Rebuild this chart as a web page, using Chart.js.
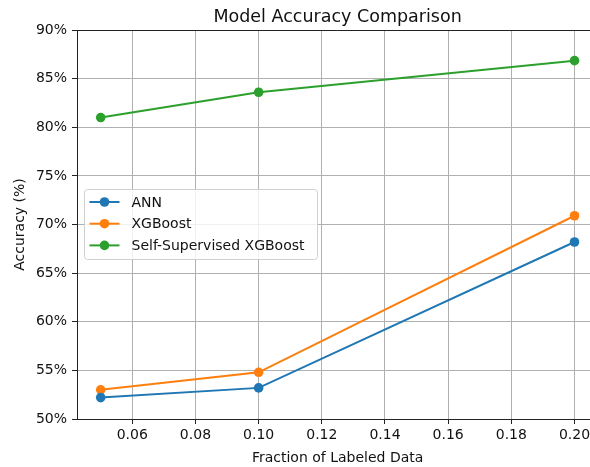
<!DOCTYPE html>
<html>
<head>
<meta charset="utf-8">
<script src="https://cdn.jsdelivr.net/npm/chart.js@4"></script>
<style>
  html, body { margin: 0; padding: 0; background: #fff; overflow: hidden; }
  #clip { position: relative; width: 590px; height: 467px; overflow: hidden; }
  #wrap { position: absolute; left: 0; top: 0; width: 603px; height: 467px; }
  #accChart { width: 603px; height: 467px; display: block; }
</style>
</head>
<body>
<div id="clip"><div id="wrap"><canvas id="accChart" width="603" height="467"></canvas></div></div>
<script>
// data
const fractions = [0.05, 0.10, 0.20];
const annAcc = [52.2, 53.2, 68.2];
const xgbAcc = [53.0, 54.8, 70.9];
const ssXgbAcc = [81.0, 83.6, 86.85];
const xTicks = [0.06, 0.08, 0.10, 0.12, 0.14, 0.16, 0.18, 0.20];
const yTicks = [50, 55, 60, 65, 70, 75, 80, 85, 90];
const chartTitle = "Model Accuracy Comparison";

const FONT = "'DejaVu Sans', sans-serif";
const TEXT = "#111";

function pts(vals) {
    return fractions.map((f, i) => ({ x: f, y: vals[i] }));
}

function series(label, vals, color) {
    return {
        label: label,
        data: pts(vals),
        borderColor: color,
        backgroundColor: color,
        borderWidth: 2,
        pointRadius: 4.8,
        pointHoverRadius: 4.8,
        pointBorderWidth: 0,
        tension: 0
    };
}

// title over the axes, top/right spines and the legend box inside, like matplotlib
const boxAndLegend = {
    id: "boxAndLegend",
    afterDraw(chart) {
        const c = chart.ctx;
        const a = chart.chartArea;
        c.save();
        c.strokeStyle = "#222";
        c.lineWidth = 1;
        c.beginPath();
        c.moveTo(a.left, a.top + 0.5);
        c.lineTo(a.right, a.top + 0.5);
        c.moveTo(a.right - 0.5, a.top);
        c.lineTo(a.right - 0.5, a.bottom);
        c.stroke();

        c.fillStyle = TEXT;
        c.font = "17.5px " + FONT;
        c.textAlign = "center";
        c.textBaseline = "alphabetic";
        c.fillText(chartTitle, (a.left + a.right) / 2, a.top - 8.5);

        // legend
        const x0 = a.left + 7.5, y0 = a.top + 159.5, w = 233, h = 70;
        c.fillStyle = "rgba(255,255,255,0.8)";
        c.strokeStyle = "#d0d0d0";
        c.beginPath();
        c.roundRect(x0, y0, w, h, 3);
        c.fill();
        c.stroke();
        c.font = "14px " + FONT;
        c.textAlign = "left";
        c.textBaseline = "middle";
        chart.data.datasets.forEach((ds, i) => {
            const cy = y0 + 12.5 + i * 21.7;
            c.strokeStyle = ds.borderColor;
            c.lineWidth = 2;
            c.beginPath();
            c.moveTo(x0 + 5, cy);
            c.lineTo(x0 + 35, cy);
            c.stroke();
            c.fillStyle = ds.borderColor;
            c.beginPath();
            c.arc(x0 + 20, cy, 4.8, 0, Math.PI * 2);
            c.fill();
            c.fillStyle = TEXT;
            c.fillText(ds.label, x0 + 47, cy + 1);
        });
        c.restore();
    }
};

const ctx = document.getElementById("accChart").getContext("2d");
window.accChart = new Chart(ctx, {
    type: "line",
    data: {
        datasets: [
            series("ANN", annAcc, "#1f77b4"),
            series("XGBoost", xgbAcc, "#ff7f0e"),
            series("Self-Supervised XGBoost", ssXgbAcc, "#2ca02c")
        ]
    },
    options: {
        responsive: false,
        animation: false,
        layout: { padding: { top: 30, right: 0, bottom: 0, left: 0 } },
        scales: {
            x: {
                type: "linear",
                min: 0.0425,
                max: 0.2075,
                afterBuildTicks: (s) => { s.ticks = xTicks.map(v => ({ value: v })); },
                afterFit: (s) => { s.height = 48; s.paddingLeft = 0; s.paddingRight = 0; },
                border: { color: "#222", width: 1 },
                grid: { color: "#b0b0b0", lineWidth: 1, tickLength: 5, tickColor: "#222" },
                ticks: {
                    color: TEXT,
                    font: { family: FONT, size: 14 },
                    padding: 3,
                    maxRotation: 0,
                    callback: (v) => v.toFixed(2)
                },
                title: {
                    display: true,
                    text: "Fraction of Labeled Data",
                    color: TEXT,
                    font: { family: FONT, size: 14 },
                    padding: { top: 0, bottom: 0 }
                }
            },
            y: {
                min: 50,
                max: 90,
                afterBuildTicks: (s) => { s.ticks = yTicks.map(v => ({ value: v })); },
                afterFit: (s) => { s.width = 77; s.paddingTop = 0; s.paddingBottom = 0; },
                border: { color: "#222", width: 1 },
                grid: { color: "#b0b0b0", lineWidth: 1, tickLength: 5, tickColor: "#222" },
                ticks: {
                    color: TEXT,
                    font: { family: FONT, size: 14 },
                    padding: 5,
                    callback: (v) => v + "%"
                },
                title: {
                    display: true,
                    text: "Accuracy (%)",
                    color: TEXT,
                    font: { family: FONT, size: 14 },
                    padding: { top: 12, bottom: 0 }
                }
            }
        },
        plugins: {
            legend: { display: false },
            tooltip: { enabled: false },
            title: { display: false }
        }
    },
    plugins: [boxAndLegend]
});
</script>
</body>
</html>
